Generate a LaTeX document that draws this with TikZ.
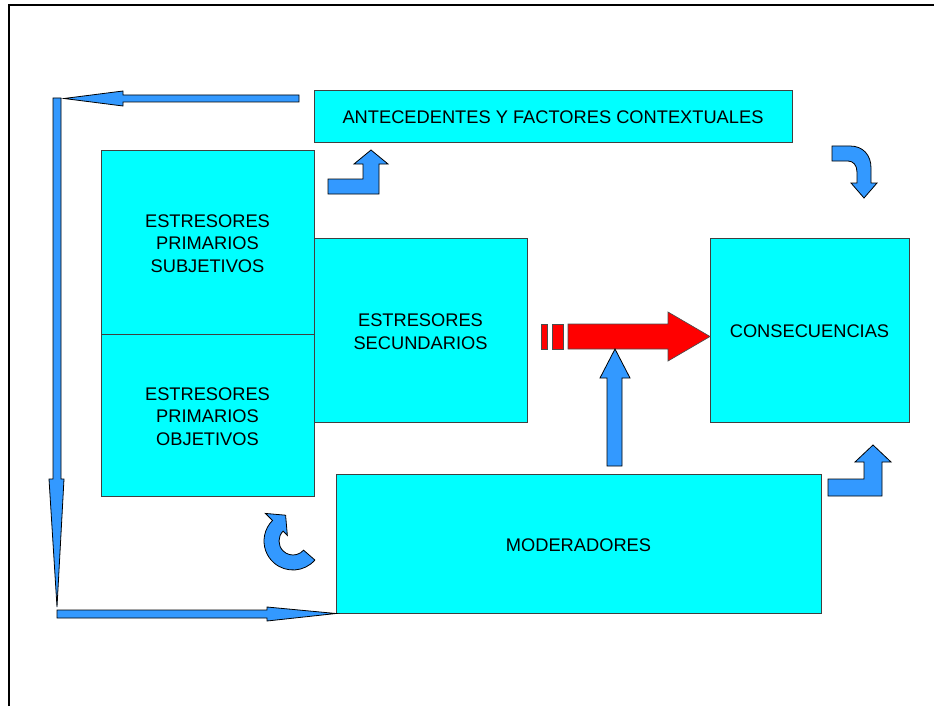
\documentclass[tikz,border=0pt]{standalone}
\usepackage{fontspec}
\setmainfont{Liberation Sans}
\definecolor{cyanfill}{HTML}{00FFFF}
\definecolor{arrowblue}{HTML}{3399FF}
\definecolor{arrowred}{HTML}{FF0000}
\newcommand\diagfont{\fontsize{13.7}{17}\selectfont}
\begin{document}
\begin{tikzpicture}[x=0.75pt,y=-0.75pt,
  box/.style={draw=black!75, line width=0.6pt, fill=cyanfill, inner sep=0pt,
    align=center, font=\diagfont, text=black},
  boxtext/.style={align=center, font=\diagfont, text=black, inner sep=0pt},
  blockarrow/.style={draw=black, line width=0.6pt, fill=arrowblue, line join=miter},
  redblock/.style={draw=black!70, line width=0.5pt, fill=arrowred, line join=miter},
]
\useasboundingbox (0,0) rectangle (934,706);
\fill[white] (0,0) rectangle (934,706);

% page frame (top and left edges)
\draw[line width=1.6pt] (9,706) -- (9,5) -- (934,5);

% boxes
\node[box, minimum width=478*0.75pt, minimum height=52*0.75pt] (ante) at (553,116) {};
\node[box, minimum width=213*0.75pt, minimum height=184*0.75pt] (subj) at (207.5,242) {};
\node[box, minimum width=213*0.75pt, minimum height=162*0.75pt] (obj) at (207.5,415) {};
\node[box, minimum width=213*0.75pt, minimum height=184*0.75pt] (sec) at (420.5,330) {};
\node[box, minimum width=199*0.75pt, minimum height=184*0.75pt] (cons) at (809.5,330) {};
\node[box, minimum width=485*0.75pt, minimum height=139*0.75pt] (mod) at (578.5,543.5) {};

% box labels
\node[boxtext] (anteT) at ([yshift=-1.2pt]ante.center) {ANTECEDENTES Y FACTORES CONTEXTUALES};
\node[boxtext] (subjT) at ([yshift=-1.2pt]subj.center) {ESTRESORES\\PRIMARIOS\\SUBJETIVOS};
\node[boxtext] (objT) at ([yshift=-1.2pt]obj.center) {ESTRESORES\\PRIMARIOS\\OBJETIVOS};
\node[boxtext] (secT) at ([yshift=-1.2pt]sec.center) {ESTRESORES\\SECUNDARIOS};
\node[boxtext] (consT) at ([yshift=-1.2pt]cons.center) {CONSECUENCIAS};
\node[boxtext] (modT) at ([yshift=-1.2pt]mod.center) {MODERADORES};

% long feedback loop on the left
\draw[blockarrow] (299,95) -- (123,95) -- (123,91) -- (64,98.5) -- (123,106)
  -- (123,102) -- (299,102) -- cycle;
\draw[blockarrow] (53,98) -- (61,98) -- (61,479) -- (64,479) -- (57,607)
  -- (49,479) -- (53,479) -- cycle;
\draw[blockarrow] (57,610) -- (267,610) -- (267,607) -- (336,613.5) -- (267,621)
  -- (267,618) -- (57,618) -- cycle;

% bent arrow towards the antecedents
\draw[blockarrow] (328,194) -- (379,194) -- (379,164) -- (388,164) -- (371,150)
  -- (354,164) -- (363,164) -- (363,179) -- (328,179) -- cycle;

% bent arrow next to the moderators
\draw[blockarrow] (828,496) -- (882,496) -- (882,462) -- (891,462) -- (873,445)
  -- (855,462) -- (864,462) -- (864,479) -- (828,479) -- cycle;

% curved arrow from the antecedents down to the consequences
\draw[blockarrow] (832,146) -- (850,146) .. controls (863,146) and (871,155) .. (871,168)
  -- (871,183) -- (877,183) -- (864,198) -- (851,183) -- (857,183) -- (857,172)
  .. controls (857,165) and (853,161) .. (848,161) -- (832,161) -- cycle;

% circular arrow beside the moderators
\begin{scope}[shift={(293,541)}, yscale=-1]
  \draw[blockarrow] (-41:29) arc[start angle=-41, end angle=-225, radius=29]
    -- (135:39) -- (-7.4,25.8) -- (135:8) -- (135:14)
    arc[start angle=-225, end angle=-41, radius=14] -- cycle;
\end{scope}

% main red arrow to the consequences
\draw[redblock] (541,324) rectangle (547,349);
\draw[redblock] (552,324) rectangle (563,349);
\draw[redblock] (568,324) -- (668,324) -- (668,312) -- (710,336.5) -- (668,361)
  -- (668,349) -- (568,349) -- cycle;

% moderators acting on the main path
\draw[blockarrow] (607,466) -- (607,378) -- (600,378) -- (615,349) -- (630,378)
  -- (622,378) -- (622,466) -- cycle;
\end{tikzpicture}
\end{document}
